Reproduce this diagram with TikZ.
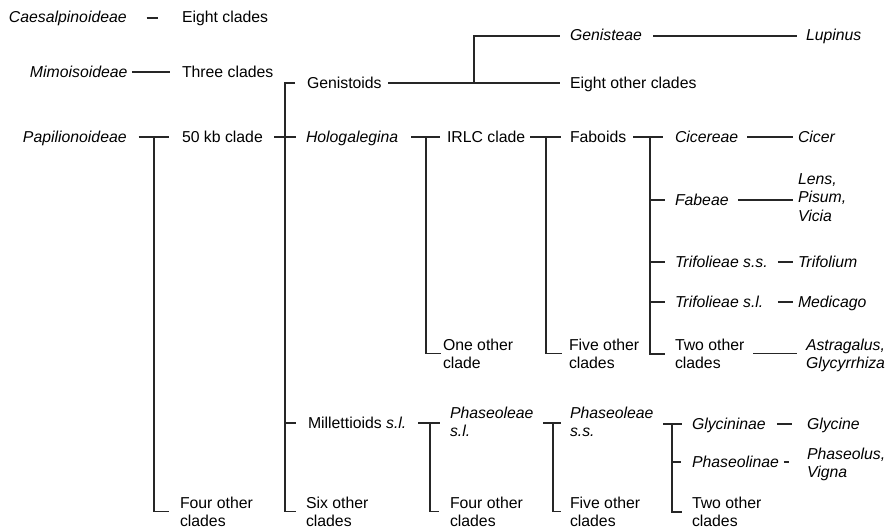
\documentclass[tikz,border=0pt]{standalone}
\usepackage{fontspec}
\setmainfont{Liberation Sans}
\newcommand\myfs{\fontsize{15.8}{18.5}\selectfont}
\newcommand\myfsb{\fontsize{15.8}{18}\selectfont}
\begin{document}
\begin{tikzpicture}[x=1pt, y=-1pt,
  basebox/.style={inner sep=0pt, outer sep=0pt, font=\myfs},
  sl/.style={basebox, anchor=west, text height=12pt, text depth=2pt},
  sli/.style={sl, font=\myfs\itshape},
  ml/.style={basebox, anchor=north west, align=left},
  mli/.style={ml, font=\myfs\itshape},
  mlb/.style={ml, font=\myfsb},
  br/.style={draw=black!85, line width=1.1pt},
  heavy/.style={line width=1.7pt}]
\useasboundingbox (0,0) rectangle (887,530);

% ---- text nodes
\node[sli] (caes) at (9,18) {Caesalpinoideae};
\node[sl] (eight) at (182,18) {Eight clades};
\node[sli] (mimo) at (30,72) {Mimoisoideae};
\node[sl] (three) at (182,72) {Three clades};
\node[sli] (papi) at (23,137) {Papilionoideae};
\node[sl] (kb) at (182,137) {50 kb clade};
\node[mlb] (fourA) at (180,497) {Four other\\clades};
\node[sl] (genis) at (307,83) {Genistoids};
\node[sli] (genisteae) at (570,36) {Genisteae};
\node[sli] (lupinus) at (806,36) {Lupinus};
\node[sl] (eightother) at (570,83) {Eight other clades};
\node[sli] (holo) at (306,137) {Hologalegina};
\node[sl] (irlc) at (447,137) {IRLC clade};
\node[sl] (faboids) at (570,137) {Faboids};
\node[sli] (cicereae) at (675,137) {Cicereae};
\node[sli] (cicer) at (798,137) {Cicer};
\node[sli] (fabeae) at (675,200) {Fabeae};
\node[mli] (lens) at (798,173.6) {Lens,\\Pisum,\\Vicia};
\node[sli] (trss) at (675,262) {Trifolieae s.s.};
\node[sli] (trifolium) at (798,262) {Trifolium};
\node[sli] (trsl) at (675,302) {Trifolieae s.l.};
\node[sli] (medicago) at (798,302) {Medicago};
\node[ml] (twoA) at (675,338.6) {Two other\\clades};
\node[mli] (astr) at (806,338.6) {Astragalus,\\Glycyrrhiza};
\node[ml] (oneother) at (443,338.6) {One other\\clade};
\node[ml] (fiveA) at (569,338.6) {Five other\\clades};
\node[sl] (mill) at (308,423) {Millettioids \textit{s.l.}};
\node[mli] (phsl) at (450,406.6) {Phaseoleae\\s.l.};
\node[mli] (phss) at (570,406.6) {Phaseoleae\\s.s.};
\node[sli] (glycininae) at (692,424) {Glycininae};
\node[sli] (glycine) at (807,424) {Glycine};
\node[sli] (phaseolinae) at (692,462) {Phaseolinae};
\node[mli] (phvig) at (807,448) {Phaseolus,\\Vigna};
\node[mlb] (six) at (306,497) {Six other\\clades};
\node[mlb] (fourB) at (450,497) {Four other\\clades};
\node[mlb] (fiveB) at (570,497) {Five other\\clades};
\node[mlb] (twoB) at (692,497) {Two other\\clades};

% ---- junctions
\coordinate (jpapi) at (154,137);
\coordinate (jkb) at (285,137);
\coordinate (jgen) at (474,83);
\coordinate (jholo) at (426,137);
\coordinate (jirlc) at (546,137);
\coordinate (jfab) at (650,137);
\coordinate (jmill) at (430,423);
\coordinate (jphsl) at (553,423);
\coordinate (jphss) at (672,424);

% ---- connectors
\draw[br, shorten <=20pt, shorten >=24pt] (caes) -- (eight);
\draw[br, shorten <=4.5pt, shorten >=12pt] (mimo) -- (three);

\draw[br, shorten <=12pt, shorten >=13pt] (papi) -- (kb);
\draw[br] (jpapi) |- ([xshift=-11pt]fourA.west);

\draw[br, shorten <=11.2pt, shorten >=10pt] (kb) -- (holo);
\draw[br] ([xshift=-12pt]genis.west) -| (jkb) |- ([xshift=-10pt]six.west);
\draw[br] (jkb |- mill) -- ([xshift=-12pt]mill.west);

\draw[br, shorten <=6.4pt, shorten >=10pt] (genis) -- (eightother);
\draw[br] (jgen) |- ([xshift=-10pt]genisteae.west);
\draw[br, shorten <=11pt, shorten >=9pt] (genisteae) -- (lupinus);

\draw[br, shorten <=12.8pt, shorten >=7pt] (holo) -- (irlc);
\draw[br] (jholo) |- ([xshift=-2pt]oneother.west);

\draw[br, shorten <=5pt, shorten >=9pt] (irlc) -- (faboids);
\draw[br] (jirlc) |- ([xshift=-7pt]fiveA.west);

\draw[br, shorten <=6.8pt, shorten >=12pt] (faboids) -- (cicereae);
\draw[br, heavy] (jfab) |- ([xshift=-10pt]twoA.west);
\foreach \n in {fabeae,trss,trsl}
  \draw[br] (jfab |- \n) -- ([xshift=-10pt]\n.west);

\draw[br, shorten <=8.8pt, shorten >=5pt] (cicereae) -- (cicer);
\draw[br, shorten <=9.4pt, shorten >=5pt] (fabeae) -- (fabeae -| lens.west);
\draw[br, shorten <=10pt, shorten >=5pt] (trss) -- (trifolium);
\draw[br, shorten <=14.4pt, shorten >=5pt] (trsl) -- (medicago);
\draw[br, shorten <=9pt, shorten >=9pt] (twoA) -- (twoA -| astr.west);

\draw[br, shorten <=11.7pt, shorten >=10pt] (mill) -- (mill -| phsl.west);
\draw[br] (jmill) |- ([xshift=-11pt]fourB.west);

\draw[br, shorten <=9.6pt, shorten >=9pt] (phsl.east |- mill) -- (phss.west |- mill);
\draw[br] (jphsl) |- ([xshift=-9pt]fiveB.west);

\draw[br, shorten <=9.6pt, shorten >=10pt] (phss.east |- glycininae) -- (glycininae);
\draw[br, heavy] (jphss) |- ([xshift=-10pt]twoB.west);
\draw[br] (jphss |- phaseolinae) -- ([xshift=-11pt]phaseolinae.west);
\draw[br, shorten <=11pt, shorten >=15pt] (glycininae) -- (glycine);
\draw[br, shorten <=5pt, shorten >=18pt] (phaseolinae) -- (phaseolinae -| phvig.west);
\end{tikzpicture}
\end{document}
